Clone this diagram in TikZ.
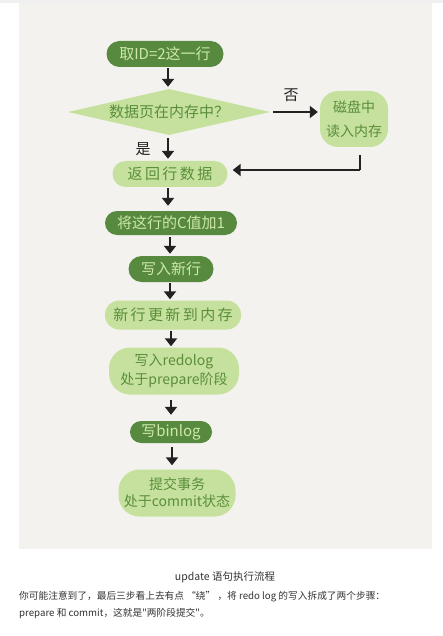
\documentclass[tikz,border=0pt]{standalone}
\usepackage{fontspec}
\usetikzlibrary{arrows.meta,shapes.geometric}
\newfontfamily\cjkfont{Noto Sans CJK SC}
\definecolor{panelbg}{HTML}{F3F2EE}
\definecolor{dkgreen}{HTML}{578A3F}
\definecolor{ltgreen}{HTML}{C5E19D}
\definecolor{ontext}{HTML}{CDE8A8}
\definecolor{intext}{HTML}{5A8E3A}
\definecolor{ink}{HTML}{222222}
\definecolor{captxt}{HTML}{333333}
% small gap between hand-spaced characters
\newcommand\gp{\hspace{2.4pt}}
\tikzset{
  box/.style={rounded corners=13pt, inner sep=0pt, align=center,
    font=\cjkfont\fontsize{15}{17}\selectfont},
  darkbox/.style={box, fill=dkgreen, text=ontext},
  lightbox/.style={box, fill=ltgreen, text=intext},
  blob/.style={lightbox, rounded corners=21pt},
  arr/.style={draw=ink, line width=2.4pt,
    -{Triangle[width=12pt,length=8pt]}},
  lbl/.style={text=ink, font=\cjkfont\fontsize{15}{17}\selectfont},
  captext/.style={text=captxt, inner sep=0pt, font=\cjkfont\fontsize{9.7}{11}\selectfont}
}
\begin{document}
\begin{tikzpicture}[x=1pt,y=-1pt]
\useasboundingbox (0,0) rectangle (443,636);
\fill[white] (0,0) rectangle (443,636);
\fill[black!6] (0,0) rectangle (443,3);
\fill[panelbg] (19,3) rectangle (432,549);

% flow steps
\node[darkbox, minimum width=117pt, minimum height=26pt] (fetch) at (165,54) {取ID=2这一行};
\node[diamond, fill=ltgreen, text=intext, inner sep=0pt, aspect=4.4,
      minimum width=202pt, minimum height=46pt,
      font=\cjkfont\fontsize{15}{17}\selectfont] (inmem) at (169,112) {数据页在内存中？};
\node[lightbox, rounded corners=18pt, minimum width=68pt, minimum height=56pt,
      font=\cjkfont\fontsize{14}{24}\selectfont] (disk) at (354,119) {磁盘中\\读入内存};
\node[lightbox, minimum width=115pt, minimum height=26pt] (ret) at (170,174) {返\gp 回\gp 行\gp 数\gp 据};
\node[darkbox, minimum width=132pt, minimum height=24pt, rounded corners=12pt] (incr) at (171,223) {将这行的C值加1};
\node[darkbox, minimum width=85pt, minimum height=26pt] (wrow) at (171,269) {写入新行};
\node[lightbox, minimum width=136pt, minimum height=29pt, rounded corners=14pt] (upd) at (173,315) {新\gp 行\gp 更\gp 新\gp 到\gp 内\gp 存};
\node[blob, minimum width=130pt, minimum height=47pt,
      font=\cjkfont\fontsize{14}{19}\selectfont] (redo) at (174,371) {写入redolog\\处于prepare阶段};
\node[darkbox, minimum width=82pt, minimum height=22pt, rounded corners=11pt] (binlog) at (171,432) {写binlog};
\node[blob, minimum width=117pt, minimum height=47pt,
      font=\cjkfont\fontsize{14}{17}\selectfont] (commit) at (177,493) {提交事务\\处于commit状态};

% branch labels
\node[lbl] (no) at (291,95) {否};
\node[lbl] (yes) at (143,149) {是};

% connectors
\coordinate (c1) at (168,0);
\coordinate (c2) at (170,0);
\coordinate (c3) at (171,0);
\coordinate (c4) at (172,0);
\coordinate (turn) at (360,170);
\draw[arr, shorten <=1pt, shorten >=2pt] (fetch.south -| c1) -- (inmem.north -| c1);
\draw[arr, shorten <=3pt, shorten >=2pt] (inmem.east) -- (inmem.east -| disk.west);
\draw[arr, shorten <=3pt, shorten >=2pt] (inmem.south -| c1) -- (ret.north -| c1);
\draw[arr, -, shorten <=8pt] (disk.south -| turn) -- (turn);
\draw[arr, shorten >=5pt] (turn) -- (turn -| ret.east);
\draw[arr, shorten <=1pt, shorten >=5pt] (ret.south -| c1) -- (incr.north -| c1);
\draw[arr, shorten <=2pt, shorten >=2pt] (incr.south -| c2) -- (wrow.north -| c2);
\draw[arr, shorten <=1pt, shorten >=1pt] (wrow.south -| c2) -- (upd.north -| c2);
\draw[arr, shorten <=1pt, shorten >=1pt] (upd.south -| c3) -- (redo.north -| c3);
\draw[arr, shorten <=5pt, shorten >=6pt] (redo.south -| c3) -- (binlog.north -| c3);
\draw[arr, shorten <=4pt, shorten >=4pt] (binlog.south -| c4) -- (commit.north -| c4);

% caption and notes
\node[captext, font=\cjkfont\fontsize{10.5}{12}\selectfont] (title) at (225,577) {update 语句执行流程};
\node[captext, anchor=west] (note1) at (19,597) {你可能注意到了，最后三步看上去有点 “绕” ，将 redo log 的写入拆成了两个步骤：};
\node[captext, anchor=west] (note2) at (19,613) {prepare 和 commit，这就是"两阶段提交"。};
\end{tikzpicture}
\end{document}
